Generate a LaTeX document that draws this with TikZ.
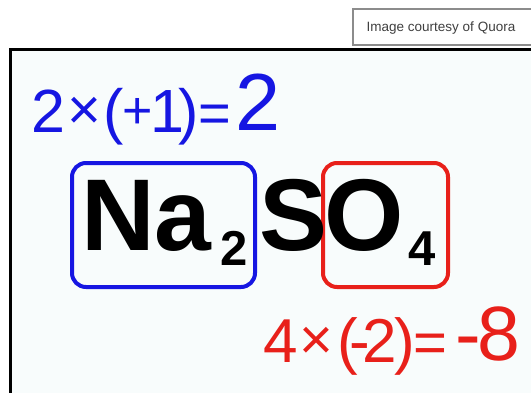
\documentclass[tikz,border=0pt]{standalone}
\usepackage{fontspec}
\setmainfont{Liberation Sans}
\usetikzlibrary{positioning}

\definecolor{oxblue}{RGB}{22,22,226}
\definecolor{oxred}{RGB}{232,32,26}
\definecolor{slide}{RGB}{248,252,252}

% lowered subscript digit for the formula
\newcommand{\chemsub}[1]{\raisebox{-15pt}{\fontsize{49}{49}\selectfont\bfseries #1}}
% operator sign set a little smaller than the digits
\newcommand{\opsign}[3]{\raisebox{#2}{\fontsize{#1}{#1}\selectfont #3}}

\begin{document}
\begin{tikzpicture}[x=1pt, y=-1pt,
  eq/.style={anchor=base west, inner sep=0pt},
  groupbox/.style={draw, line width=4pt, rounded corners=14pt, inner sep=0pt},
  capbox/.style={draw=black!45, line width=1.2pt, fill=white, inner sep=0pt}]
  \useasboundingbox (0,0) rectangle (531,392);
  % slide frame
  \fill[slide] (10.5,49.5) rectangle (545,400);
  \draw[line width=3pt] (10.5,400) -- (10.5,49.5) -- (545,49.5);
  \node[capbox, minimum width=190pt, minimum height=36pt] (credit) at (448,27) {};
  \node[text=black!75, font=\fontsize{13.5}{13.5}\selectfont] (caption) at (441,28) {Image courtesy of Quora};

  % charge boxes
  \node[groupbox, draw=oxblue, minimum width=183pt, minimum height=124pt] (nabox) at (163.5,225) {};
  \node[groupbox, draw=oxred, minimum width=125pt, minimum height=124pt] (obox) at (385.5,225) {};

  % formula
  \node[eq, font=\fontsize{102}{102}\selectfont\bfseries] (formula) at (81,250)
    {Na\kern9pt\chemsub{2}\kern11.5ptS\kern-3ptO\kern5pt\chemsub{4}};

  % blue sum
  \node[eq, text=oxblue, font=\fontsize{61}{61}\selectfont] (naeq) at (31,132)
    {2\kern2pt\opsign{58}{3pt}{×}\kern3pt(\kern-2pt\opsign{52}{3.5pt}{+}\kern-2pt1\kern-6pt)\kern0pt\opsign{56}{0pt}{=}};
  \node[eq, text=oxblue, font=\fontsize{81}{81}\selectfont] (naval) at (235.6,130) {2};

  % red sum
  \node[eq, text=oxred, font=\fontsize{62}{62}\selectfont] (oeq) at (263,362)
    {4\kern1.5pt\opsign{58}{3pt}{×}\kern4pt(\kern-8.7pt-\kern-6.7pt2\kern-2.8pt)\kern-1.7pt\opsign{58}{0pt}{=}};
  \node[eq, text=oxred, font=\fontsize{77}{77}\selectfont] (oval) at (455,360) {-\kern-3.5pt8};
\end{tikzpicture}
\end{document}
